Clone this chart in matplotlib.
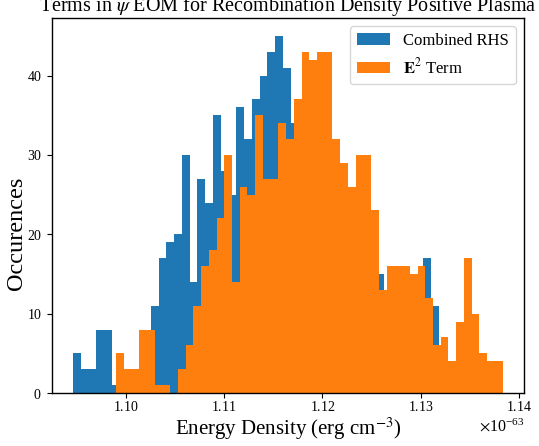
import numpy as np
import matplotlib
matplotlib.use("Agg")
import matplotlib.pyplot as plt

plt.rcParams['font.family'] = ['Liberation Serif', 'DejaVu Serif']
plt.rcParams['mathtext.fontset'] = 'stix'
plt.rcParams['axes.formatter.use_mathtext'] = True

# counts per bin (50 bins each)
rhs_counts = [5, 3, 3, 8, 8, 1, 2, 2, 3, 5,
              11, 17, 19, 20, 30, 14, 27, 24, 35, 28,
              25, 36, 32, 37, 40, 43, 45, 41, 34, 33,
              30, 28, 26, 24, 22, 20, 19, 17, 16, 15,
              12, 10, 8, 6, 5, 17, 11, 3, 2, 1]
e2_counts = [5, 3, 3, 8, 8, 1, 1, 0, 3, 6,
             11, 16, 18, 22, 30, 14, 26, 25, 35, 27,
             27, 34, 32, 37, 43, 42, 43, 43, 32, 29,
             26, 30, 30, 23, 13, 16, 16, 16, 15, 16,
             12, 6, 7, 4, 9, 17, 10, 5, 4, 4]
# histogram ranges (erg cm^-3)
rhs_range = (1.094606e-63, 1.134198e-63)
e2_range = (1.098982e-63, 1.138341e-63)

rhs_edges = np.linspace(rhs_range[0], rhs_range[1], len(rhs_counts) + 1)
e2_edges = np.linspace(e2_range[0], e2_range[1], len(e2_counts) + 1)

fig = plt.figure(figsize=(5.39, 4.46), dpi=100)
ax = fig.add_axes([0.0957, 0.1188, 0.8765, 0.8408])

ax.hist(rhs_edges[:-1], bins=rhs_edges, weights=rhs_counts, label='Combined RHS')
ax.hist(e2_edges[:-1], bins=e2_edges, weights=e2_counts, label=r'$\mathbf{E}^2$ Term')

ax.set_title(r'Terms in $\psi$ EOM for Recombination Density Positive Plasma',
             fontsize=14.5, pad=4)
ax.set_xlabel(r'Energy Density (erg cm$^{-3}$)', fontsize=15, labelpad=1)
ax.set_ylabel('Occurences', fontsize=17.5)
ax.yaxis.set_label_coords(-0.052, 0.425)
ax.tick_params(labelsize=10)
ax.tick_params(axis='x', pad=1.5)
ax.xaxis.get_offset_text().set_fontsize(11.5)
for s in ax.spines.values():
    s.set_linewidth(1.0)
ax.legend(loc='upper right', fontsize=12)

fig.savefig('out.png', dpi=100)
